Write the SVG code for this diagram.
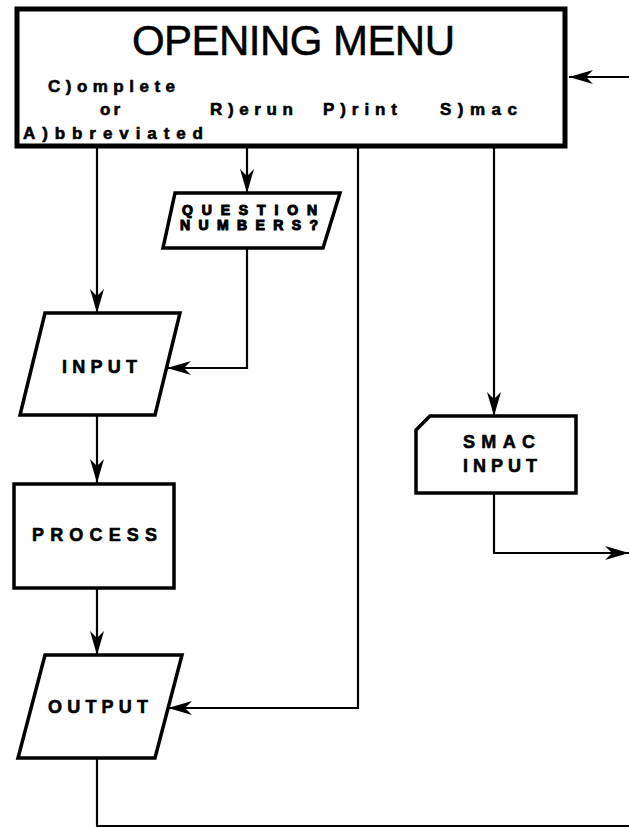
<svg xmlns="http://www.w3.org/2000/svg" width="629" height="828" viewBox="0 0 629 828">
<style>
.box{fill:#fff;stroke:#000;stroke-width:3.5;stroke-linejoin:miter}
.menu{fill:#fff;stroke:#000;stroke-width:5}
.ln{fill:none;stroke:#000;stroke-width:2.2}
.t{font-family:"Liberation Sans",Arial,sans-serif;font-weight:bold;fill:#000;stroke:#000;stroke-width:0.6}
.title{font-family:"Liberation Sans",Arial,sans-serif;font-weight:normal;fill:#000;stroke:#000;stroke-width:0.5;font-size:42px}
.opt{font-size:17px}
.lbl{font-size:18px}
.q{font-size:14px;stroke-width:1.1}
</style>
<defs>
<marker id="ah" markerUnits="userSpaceOnUse" markerWidth="26" markerHeight="16" refX="24" refY="7" orient="auto">
<path d="M24,7 L0,0 L7,7 L0,14 Z" fill="#000"/>
</marker>
</defs>
<rect width="629" height="828" fill="#fff"/>
<g id="connectors">
<path class="ln" d="M629,77 L569,77" marker-end="url(#ah)"/>
<path class="ln" d="M97,148 L97,313" marker-end="url(#ah)"/>
<path class="ln" d="M247,148 L247,193" marker-end="url(#ah)"/>
<path class="ln" d="M247,248 L247,368 L167,368" marker-end="url(#ah)"/>
<path class="ln" d="M358,148 L358,708 L168,708" marker-end="url(#ah)"/>
<path class="ln" d="M494,148 L494,416" marker-end="url(#ah)"/>
<path class="ln" d="M494,493 L494,553 L629,553" marker-end="url(#ah)"/>
<path class="ln" d="M97,415 L97,483" marker-end="url(#ah)"/>
<path class="ln" d="M97,588 L97,655" marker-end="url(#ah)"/>
<path class="ln" d="M97,758 L97,826 L629,826"/>
</g>
<g id="opening-menu">
<rect class="menu" x="17" y="9" width="548" height="137"/>
<text class="title" x="132" y="55" textLength="323" lengthAdjust="spacing">OPENING  MENU</text>
<text class="t opt" x="48" y="92" textLength="127" lengthAdjust="spacing">C)omplete</text>
<text class="t opt" x="100" y="115" textLength="20" lengthAdjust="spacing">or</text>
<text class="t opt" x="23" y="139" textLength="180" lengthAdjust="spacing">A)bbreviated</text>
<text class="t opt" x="210" y="115" textLength="83" lengthAdjust="spacing">R)erun</text>
<text class="t opt" x="323" y="115" textLength="74" lengthAdjust="spacing">P)rint</text>
<text class="t opt" x="440" y="115" textLength="77" lengthAdjust="spacing">S)mac</text>
</g>
<g id="question-numbers">
<path class="box" d="M175,193 L340,193 L323,248 L163,248 Z"/>
<text class="t q" x="182" y="215" textLength="135" lengthAdjust="spacing">QUESTION</text>
<text class="t q" x="180" y="230" textLength="138" lengthAdjust="spacing">NUMBERS?</text>
</g>
<g id="input">
<path class="box" d="M45,313 L180,313 L155,415 L20,415 Z"/>
<text class="t lbl" x="62" y="373" textLength="75" lengthAdjust="spacing">INPUT</text>
</g>
<g id="process">
<rect class="box" x="14" y="484" width="160" height="104"/>
<text class="t lbl" x="32" y="541" textLength="125" lengthAdjust="spacing">PROCESS</text>
</g>
<g id="output">
<path class="box" d="M45,655 L182,655 L155,758 L18,758 Z"/>
<text class="t lbl" x="48" y="713" textLength="100" lengthAdjust="spacing">OUTPUT</text>
</g>
<g id="smac-input">
<path class="box" d="M416,430 L430,416 L576,416 L576,493 L416,493 Z"/>
<text class="t lbl" x="463" y="448" textLength="72" lengthAdjust="spacing">SMAC</text>
<text class="t lbl" x="463" y="472" textLength="74" lengthAdjust="spacing">INPUT</text>
</g>
</svg>
